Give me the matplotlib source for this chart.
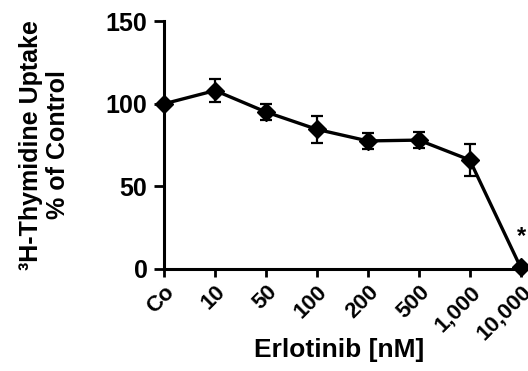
import numpy as np
import matplotlib
matplotlib.use("Agg")
from matplotlib import pyplot as plt

plt.rcParams['font.family'] = ['Liberation Sans', 'DejaVu Sans']
plt.rcParams['font.weight'] = 'bold'

# data
doses = ["Co", "10", "50", "100", "200", "500", "1,000", "10,000"]
uptake = [100, 108, 95, 84.5, 77.5, 78, 66, 1]
errors = [0, 7, 5, 8, 5, 5, 9.5, 0]

x = np.arange(len(doses))

fig = plt.figure(figsize=(5.28, 3.71), dpi=100)
ax = fig.add_axes([0.311, 0.275, 0.675, 0.668])

ax.errorbar(x, uptake, yerr=errors, color='black', lw=2.4, marker='D',
            markersize=9, capsize=4, elinewidth=1.6, capthick=1.6, clip_on=False, zorder=3)
ax.annotate("*", (x[-1], uptake[-1]), xytext=(0.5, 22), textcoords='offset points',
            fontsize=17, fontweight='bold', ha='center', va='center')

ax.set_xlim(0, 7.0)
ax.set_ylim(0, 150)
ax.set_yticks([0, 50, 100, 150])
ax.set_xticks(x)
ax.set_xticklabels(doses, rotation=45, ha='right', va='top', rotation_mode='anchor', fontsize=16)
ax.tick_params(axis='y', labelsize=18, width=2, length=7, direction='out', pad=5)
ax.tick_params(axis='x', width=2, length=6, direction='out', pad=3)

for side in ['top', 'right']:
    ax.spines[side].set_visible(False)
for side in ['left', 'bottom']:
    ax.spines[side].set_linewidth(2.2)

ax.set_xlabel("Erlotinib [nM]", fontsize=19, fontweight='bold')
ax.xaxis.set_label_coords(0.49, -0.28)
ax.set_ylabel("³H-Thymidine Uptake\n% of Control", fontsize=18, fontweight='bold',
              linespacing=1.15)
ax.yaxis.set_label_coords(-0.265, 0.5)

plt.savefig("out.png", dpi=100)
